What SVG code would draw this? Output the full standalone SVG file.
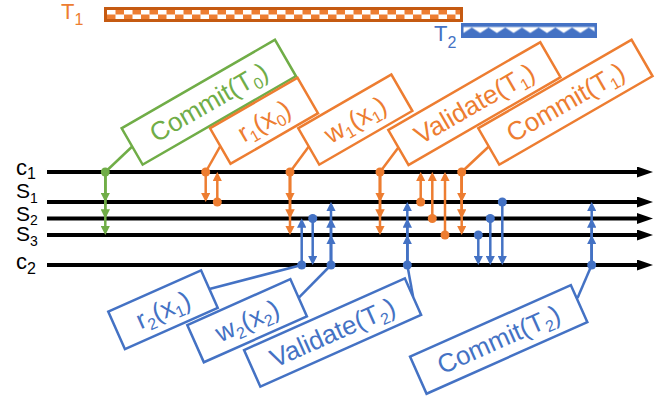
<svg xmlns="http://www.w3.org/2000/svg" width="659" height="397" viewBox="0 0 659 397">
<style>
text{font-family:"Liberation Sans",Arial,sans-serif}
.lbl{font-size:26px;text-anchor:middle}
.sub{font-size:16px}
.ax{font-size:22px;fill:#000}
.axs{font-size:21px;fill:#000}
.sb{font-size:14px}
.tl{stroke:#000;stroke-width:4;marker-end:url(#ak)}
.o{fill:#ED7D31}.g{fill:#70AD47}.b{fill:#4472C4}
.bo{fill:#fff;stroke:#ED7D31;stroke-width:2.5}
.bg{fill:#fff;stroke:#70AD47;stroke-width:2.5}
.bb{fill:#fff;stroke:#4472C4;stroke-width:2.5}
.ao{stroke:#ED7D31;stroke-width:2.5;marker-end:url(#mo)}
.ag{stroke:#70AD47;stroke-width:2.5;marker-end:url(#mg)}
.ab{stroke:#4472C4;stroke-width:2.5;marker-end:url(#mb)}
.lo{stroke:#ED7D31;stroke-width:2.5}
.lg{stroke:#70AD47;stroke-width:2.5}
.lb{stroke:#4472C4;stroke-width:2.5}
</style>
<defs>
<marker id="ak" viewBox="0 0 16 11" refX="6" refY="5.5" markerWidth="16" markerHeight="11" markerUnits="userSpaceOnUse" orient="auto"><path d="M0,0L16,5.5L0,11z" fill="#000"/></marker>
<marker id="mo" viewBox="0 0 10 10" refX="6.7" refY="5" markerWidth="9.5" markerHeight="9.5" markerUnits="userSpaceOnUse" orient="auto"><path d="M0,0L10,5L0,10z" fill="#ED7D31"/></marker>
<marker id="mg" viewBox="0 0 10 10" refX="6.7" refY="5" markerWidth="9.5" markerHeight="9.5" markerUnits="userSpaceOnUse" orient="auto"><path d="M0,0L10,5L0,10z" fill="#70AD47"/></marker>
<marker id="mb" viewBox="0 0 10 10" refX="6.7" refY="5" markerWidth="9.5" markerHeight="9.5" markerUnits="userSpaceOnUse" orient="auto"><path d="M0,0L10,5L0,10z" fill="#4472C4"/></marker>
<pattern id="chk" patternUnits="userSpaceOnUse" x="107" y="10" width="17" height="9"><rect width="17" height="9" fill="#fff"/><rect x="8.5" y="0" width="8.5" height="4.5" fill="#ED7D31"/><rect x="0" y="4.5" width="8.5" height="4.5" fill="#ED7D31"/></pattern>
<pattern id="scal" patternUnits="userSpaceOnUse" x="463.5" y="25.5" width="16.7" height="10"><rect width="16.7" height="10" fill="#fff"/><rect width="16.7" height="1.5" fill="#4472C4"/><path d="M0,10L0,7.5L8.35,2L16.7,7.5L16.7,10z" fill="#4472C4"/></pattern>
</defs>

<g id="timelines">
<line class="tl" x1="47" y1="172" x2="643" y2="172"/>
<line class="tl" x1="47" y1="202" x2="643" y2="202"/>
<line class="tl" x1="47" y1="218.5" x2="643" y2="218.5"/>
<line class="tl" x1="47" y1="235" x2="643" y2="235"/>
<line class="tl" x1="47" y1="265" x2="643" y2="265"/>
<text class="ax" x="16" y="175">c<tspan class="sub" dy="4">1</tspan></text>
<text class="axs" x="16" y="198">S<tspan class="sb" dy="4.5">1</tspan></text>
<text class="axs" x="16" y="221">S<tspan class="sb" dy="4">2</tspan></text>
<text class="axs" x="16" y="241">S<tspan class="sb" dy="5">3</tspan></text>
<text class="ax" x="16" y="269">c<tspan class="sub" dy="5">2</tspan></text>
</g>

<g id="t1-bar">
<text x="61" y="19" font-size="22" class="o">T<tspan class="sub" dy="6">1</tspan></text>
<rect x="105.5" y="8.5" width="356" height="12" fill="url(#chk)" stroke="#C55A11" stroke-width="3"/>
</g>
<g id="t2-bar">
<text x="434" y="41" font-size="22" class="b">T<tspan class="sub" dy="7">2</tspan></text>
<rect x="462.25" y="24.25" width="133.5" height="12.5" fill="url(#scal)" stroke="#4472C4" stroke-width="2.5"/>
</g>

<g id="connectors">
<line class="ag" x1="105.3" y1="172" x2="105.3" y2="199"/>
<line class="ag" x1="105.3" y1="172" x2="105.3" y2="215.5"/>
<line class="ag" x1="105.3" y1="172" x2="105.3" y2="232"/>

<line class="ao" x1="205.7" y1="172" x2="205.7" y2="199"/>
<line class="ao" x1="217.3" y1="202" x2="217.3" y2="175"/>
<line class="ao" x1="290" y1="172" x2="290" y2="199"/>
<line class="ao" x1="290" y1="172" x2="290" y2="215.5"/>
<line class="ao" x1="290" y1="172" x2="290" y2="232"/>
<line class="ao" x1="380" y1="172" x2="380" y2="199"/>
<line class="ao" x1="380" y1="172" x2="380" y2="215.5"/>
<line class="ao" x1="380" y1="172" x2="380" y2="232"/>
<line class="ao" x1="420.7" y1="202" x2="420.7" y2="175"/>
<line class="ao" x1="432.3" y1="218.5" x2="432.3" y2="175"/>
<line class="ao" x1="445" y1="235" x2="445" y2="175"/>
<line class="ao" x1="461.7" y1="172" x2="461.7" y2="199"/>
<line class="ao" x1="461.7" y1="172" x2="461.7" y2="215.5"/>
<line class="ao" x1="461.7" y1="172" x2="461.7" y2="232"/>

<line class="ab" x1="301.7" y1="265" x2="301.7" y2="221.5"/>
<line class="ab" x1="312.7" y1="218.5" x2="312.7" y2="262"/>
<line class="ab" x1="331" y1="265" x2="331" y2="238"/>
<line class="ab" x1="331" y1="265" x2="331" y2="221.5"/>
<line class="ab" x1="331" y1="265" x2="331" y2="205"/>
<line class="ab" x1="407.3" y1="265" x2="407.3" y2="238"/>
<line class="ab" x1="407.3" y1="265" x2="407.3" y2="221.5"/>
<line class="ab" x1="407.3" y1="265" x2="407.3" y2="205"/>
<line class="ab" x1="478.3" y1="235" x2="478.3" y2="262"/>
<line class="ab" x1="490.3" y1="218.5" x2="490.3" y2="262"/>
<line class="ab" x1="502.3" y1="202" x2="502.3" y2="262"/>
<line class="ab" x1="591.7" y1="265" x2="591.7" y2="238"/>
<line class="ab" x1="591.7" y1="265" x2="591.7" y2="221.5"/>
<line class="ab" x1="591.7" y1="265" x2="591.7" y2="205"/>

<line class="lg" x1="105.3" y1="172" x2="132.2" y2="146.5"/>
<line class="lo" x1="205.7" y1="172" x2="220" y2="146.7"/>
<line class="lo" x1="290" y1="172" x2="308.8" y2="146.5"/>
<line class="lo" x1="380" y1="172" x2="398.4" y2="147.5"/>
<line class="lo" x1="461.7" y1="172" x2="488.8" y2="146.5"/>
<line class="lb" x1="301.7" y1="265" x2="209.4" y2="289"/>
<line class="lb" x1="331" y1="265" x2="298.6" y2="297.8"/>
<line class="lb" x1="407.3" y1="265" x2="413.1" y2="296.7"/>
<line class="lb" x1="591.7" y1="265" x2="577.5" y2="298"/>

<circle class="g" cx="105.3" cy="172" r="4.5"/>
<circle class="o" cx="205.7" cy="172" r="4.5"/>
<circle class="o" cx="217.3" cy="202" r="4.5"/>
<circle class="o" cx="290" cy="172" r="4.5"/>
<circle class="o" cx="380" cy="172" r="4.5"/>
<circle class="o" cx="420.7" cy="202" r="4.5"/>
<circle class="o" cx="432.3" cy="218.5" r="4.5"/>
<circle class="o" cx="445" cy="235" r="4.5"/>
<circle class="o" cx="461.7" cy="172" r="4.5"/>
<circle class="b" cx="301.7" cy="265" r="4.5"/>
<circle class="b" cx="312.7" cy="218.5" r="4.5"/>
<circle class="b" cx="331" cy="265" r="4.5"/>
<circle class="b" cx="407.3" cy="265" r="4.5"/>
<circle class="b" cx="478.3" cy="235" r="4.5"/>
<circle class="b" cx="490.3" cy="218.5" r="4.5"/>
<circle class="b" cx="502.3" cy="202" r="4.5"/>
<circle class="b" cx="591.7" cy="265" r="4.5"/>
</g>

<g id="commit-t0" transform="translate(208.8,102.2) rotate(-30)"><rect class="bg" x="-88.5" y="-21" width="177" height="42"/><text class="lbl g" y="9">Commit(T<tspan class="sub" dy="5">0</tspan><tspan dy="-5">)</tspan></text></g>
<g id="r1-x0" transform="translate(264,120.8) rotate(-30)"><rect class="bo" x="-50.5" y="-20.5" width="101" height="41"/><text class="lbl o" y="9">r<tspan class="sub" dy="5">1</tspan><tspan dy="-5">(x</tspan><tspan class="sub" dy="5">0</tspan><tspan dy="-5">)</tspan></text></g>
<g id="w1-x1" transform="translate(355.3,119.6) rotate(-30)"><rect class="bo" x="-53.75" y="-21" width="107.5" height="42"/><text class="lbl o" y="9">w<tspan class="sub" dy="5">1</tspan><tspan dy="-5">(x</tspan><tspan class="sub" dy="5">1</tspan><tspan dy="-5">)</tspan></text></g>
<g id="validate-t1" transform="translate(474.4,103.6) rotate(-30)"><rect class="bo" x="-87.75" y="-20.25" width="175.5" height="40.5"/><text class="lbl o" y="9">Validate(T<tspan class="sub" dy="5">1</tspan><tspan dy="-5">)</tspan></text></g>
<g id="commit-t1" transform="translate(565.4,102.2) rotate(-30)"><rect class="bo" x="-88.5" y="-21" width="177" height="42"/><text class="lbl o" y="9">Commit(T<tspan class="sub" dy="5">1</tspan><tspan dy="-5">)</tspan></text></g>

<g id="r2-x1" transform="translate(163,309.7) rotate(-24)"><rect class="bb" x="-50.8" y="-20.5" width="101.6" height="41"/><text class="lbl b" y="9">r<tspan class="sub" dy="5">2</tspan><tspan dy="-5">(x</tspan><tspan class="sub" dy="5">1</tspan><tspan dy="-5">)</tspan></text></g>
<g id="w2-x2" transform="translate(247.1,320.7) rotate(-24)"><rect class="bb" x="-56.4" y="-20.35" width="112.8" height="40.7"/><text class="lbl b" y="9">w<tspan class="sub" dy="5">2</tspan><tspan dy="-5">(x</tspan><tspan class="sub" dy="5">2</tspan><tspan dy="-5">)</tspan></text></g>
<g id="validate-t2" transform="translate(332.6,332.5) rotate(-24)"><rect class="bb" x="-88" y="-20" width="176" height="40"/><text class="lbl b" y="9">Validate(T<tspan class="sub" dy="5">2</tspan><tspan dy="-5">)</tspan></text></g>
<g id="commit-t2" transform="translate(498.7,339.4) rotate(-24)"><rect class="bb" x="-88" y="-20.3" width="176" height="40.6"/><text class="lbl b" y="9">Commit(T<tspan class="sub" dy="5">2</tspan><tspan dy="-5">)</tspan></text></g>
</svg>
